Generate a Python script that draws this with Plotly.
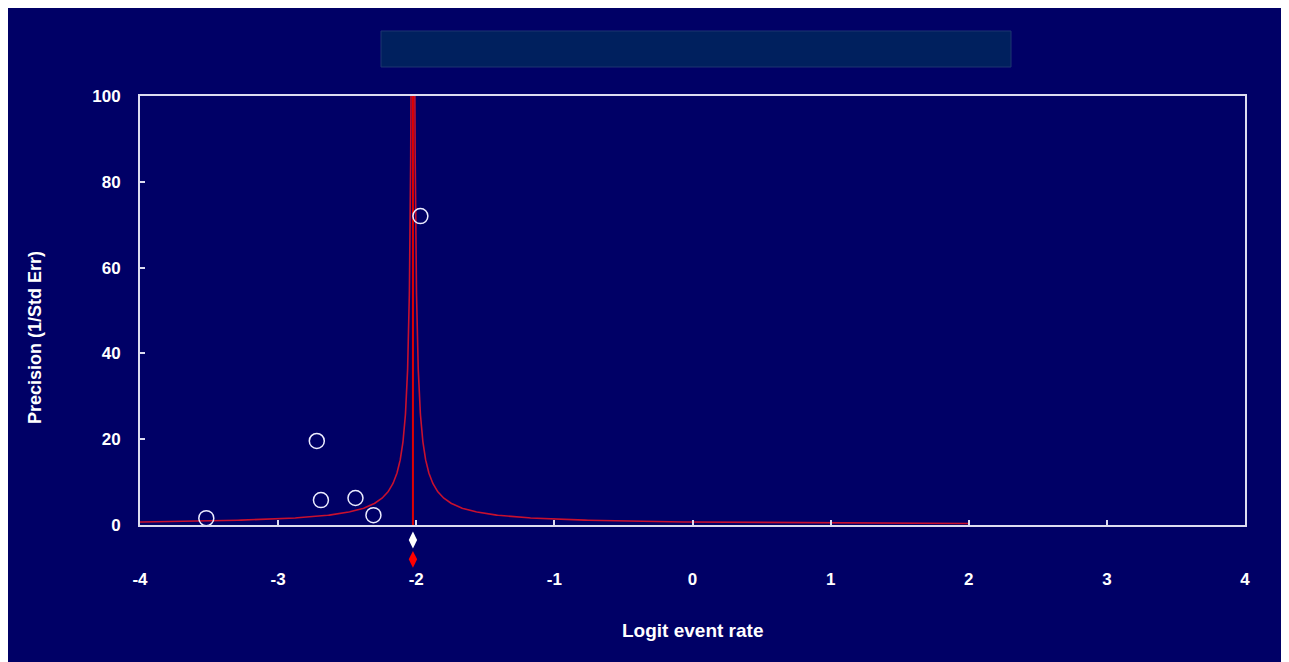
import numpy as np
import plotly.graph_objects as go

# ---- data ----
study_logit = [-3.52, -2.72, -2.69, -2.44, -2.31, -1.97]
study_precision = [1.6, 19.6, 5.8, 6.3, 2.3, 72.0]

pooled_logit = -2.024          # combined estimate (centre line)
observed_diamond_y = -3.5      # white diamond (observed)
adjusted_diamond_y = -8.0      # red diamond (adjusted)
funnel_k = 1.4                 # half-width constant of the funnel (x = c +/- k / precision)
funnel_p_min = 0.348
funnel_p_max = 100.0

x_ticks = [-4, -3, -2, -1, 0, 1, 2, 3, 4]
y_ticks = [0, 20, 40, 60, 80, 100]

NAVY = "#000066"
LINE_WHITE = "#dcdcf0"

# ---- geometry (window pixels, page body adds an 8px margin) ----
OX, OY = 8, 8
W, H = 1289 - OX, 662 - OY
L, R, T = 140 - OX, 1245 - OX, 96 - OY
B_AXIS = 525 - OY            # bottom of the framed plot box
B_AREA = 575 - OY            # bottom of the whole plotting area (room for the diamonds)
pw, ph = R - L, B_AREA - T
main_dom0 = (B_AREA - B_AXIS) / ph
y_per_px = 100.0 / (B_AXIS - T)
y2_range = [-(B_AREA - B_AXIS) * y_per_px, 0]


def px(xp):
    return (xp - OX - L) / pw


def py(yp):
    return (B_AREA - (yp - OY)) / ph


# funnel curves
p = np.geomspace(funnel_p_min, funnel_p_max, 300)
left_x = pooled_logit - funnel_k / p
right_x = pooled_logit + funnel_k / p

fig = go.Figure()
fig.add_trace(go.Scatter(x=left_x, y=p, mode="lines",
                         line=dict(color="#c8102e", width=1.6), hoverinfo="skip"))
fig.add_trace(go.Scatter(x=right_x, y=p, mode="lines",
                         line=dict(color="#c8102e", width=1.6), hoverinfo="skip"))
fig.add_trace(go.Scatter(x=[pooled_logit, pooled_logit], y=[0, 100], mode="lines",
                         line=dict(color="#e00000", width=2), hoverinfo="skip"))
fig.add_trace(go.Scatter(x=study_logit, y=study_precision, mode="markers",
                         marker=dict(symbol="circle-open", size=15,
                                     line=dict(color="#ececff", width=1.5),
                                     color="#ececff")))
fig.add_trace(go.Scatter(x=[pooled_logit], y=[observed_diamond_y], mode="markers",
                         yaxis="y2", cliponaxis=False,
                         marker=dict(symbol="diamond-tall", size=12, color="white")))
fig.add_trace(go.Scatter(x=[pooled_logit], y=[adjusted_diamond_y], mode="markers",
                         yaxis="y2", cliponaxis=False,
                         marker=dict(symbol="diamond-tall", size=12, color="#ff0000")))

tick_font = dict(family="Liberation Sans, Arial, sans-serif", size=17, color="white",
                 weight="bold")

fig.update_layout(
    width=W, height=H,
    margin=dict(l=L, r=W - R, t=T, b=H - B_AREA, pad=0),
    paper_bgcolor=NAVY, plot_bgcolor=NAVY,
    showlegend=False,
    xaxis=dict(range=[-4, 4], tickvals=x_ticks, ticktext=[str(v) for v in x_ticks],
               anchor="y",
               showgrid=False, zeroline=False, showline=True, linecolor=LINE_WHITE,
               linewidth=2, mirror=True, ticks="inside", ticklen=5, tickwidth=1.5,
               tickcolor=LINE_WHITE, tickfont=tick_font,
               ticklabelstandoff=38),
    yaxis=dict(range=[0, 100], domain=[main_dom0, 1], anchor="x",
               tickvals=y_ticks, ticktext=[str(v) for v in y_ticks],
               showgrid=False, zeroline=False, showline=True, linecolor=LINE_WHITE,
               linewidth=2, mirror=True, ticks="inside", ticklen=5, tickwidth=1.5,
               tickcolor=LINE_WHITE, tickfont=tick_font,
               ticklabelstandoff=14),
    yaxis2=dict(range=y2_range, domain=[0, main_dom0], anchor="x", visible=False,
                showgrid=False, zeroline=False),
    shapes=[
        dict(type="rect", xref="paper", yref="paper",
             x0=px(381), x1=px(1011), y0=py(67), y1=py(31),
             fillcolor="#00205e", line=dict(color="#1c3470", width=1)),
    ],
    annotations=[
        dict(text="<b>Logit event rate</b>", xref="paper", yref="paper",
             x=px(692), y=py(630), xanchor="center", yanchor="middle",
             showarrow=False,
             font=dict(family="Liberation Sans, Arial, sans-serif", size=19, color="white")),
        dict(text="<b>Precision (1/Std Err)</b>", xref="paper", yref="paper",
             x=px(35), y=py(338), xanchor="center", yanchor="middle", textangle=-90,
             showarrow=False,
             font=dict(family="Liberation Sans, Arial, sans-serif", size=18, color="white")),
    ],
)

fig.write_html("out.html")
